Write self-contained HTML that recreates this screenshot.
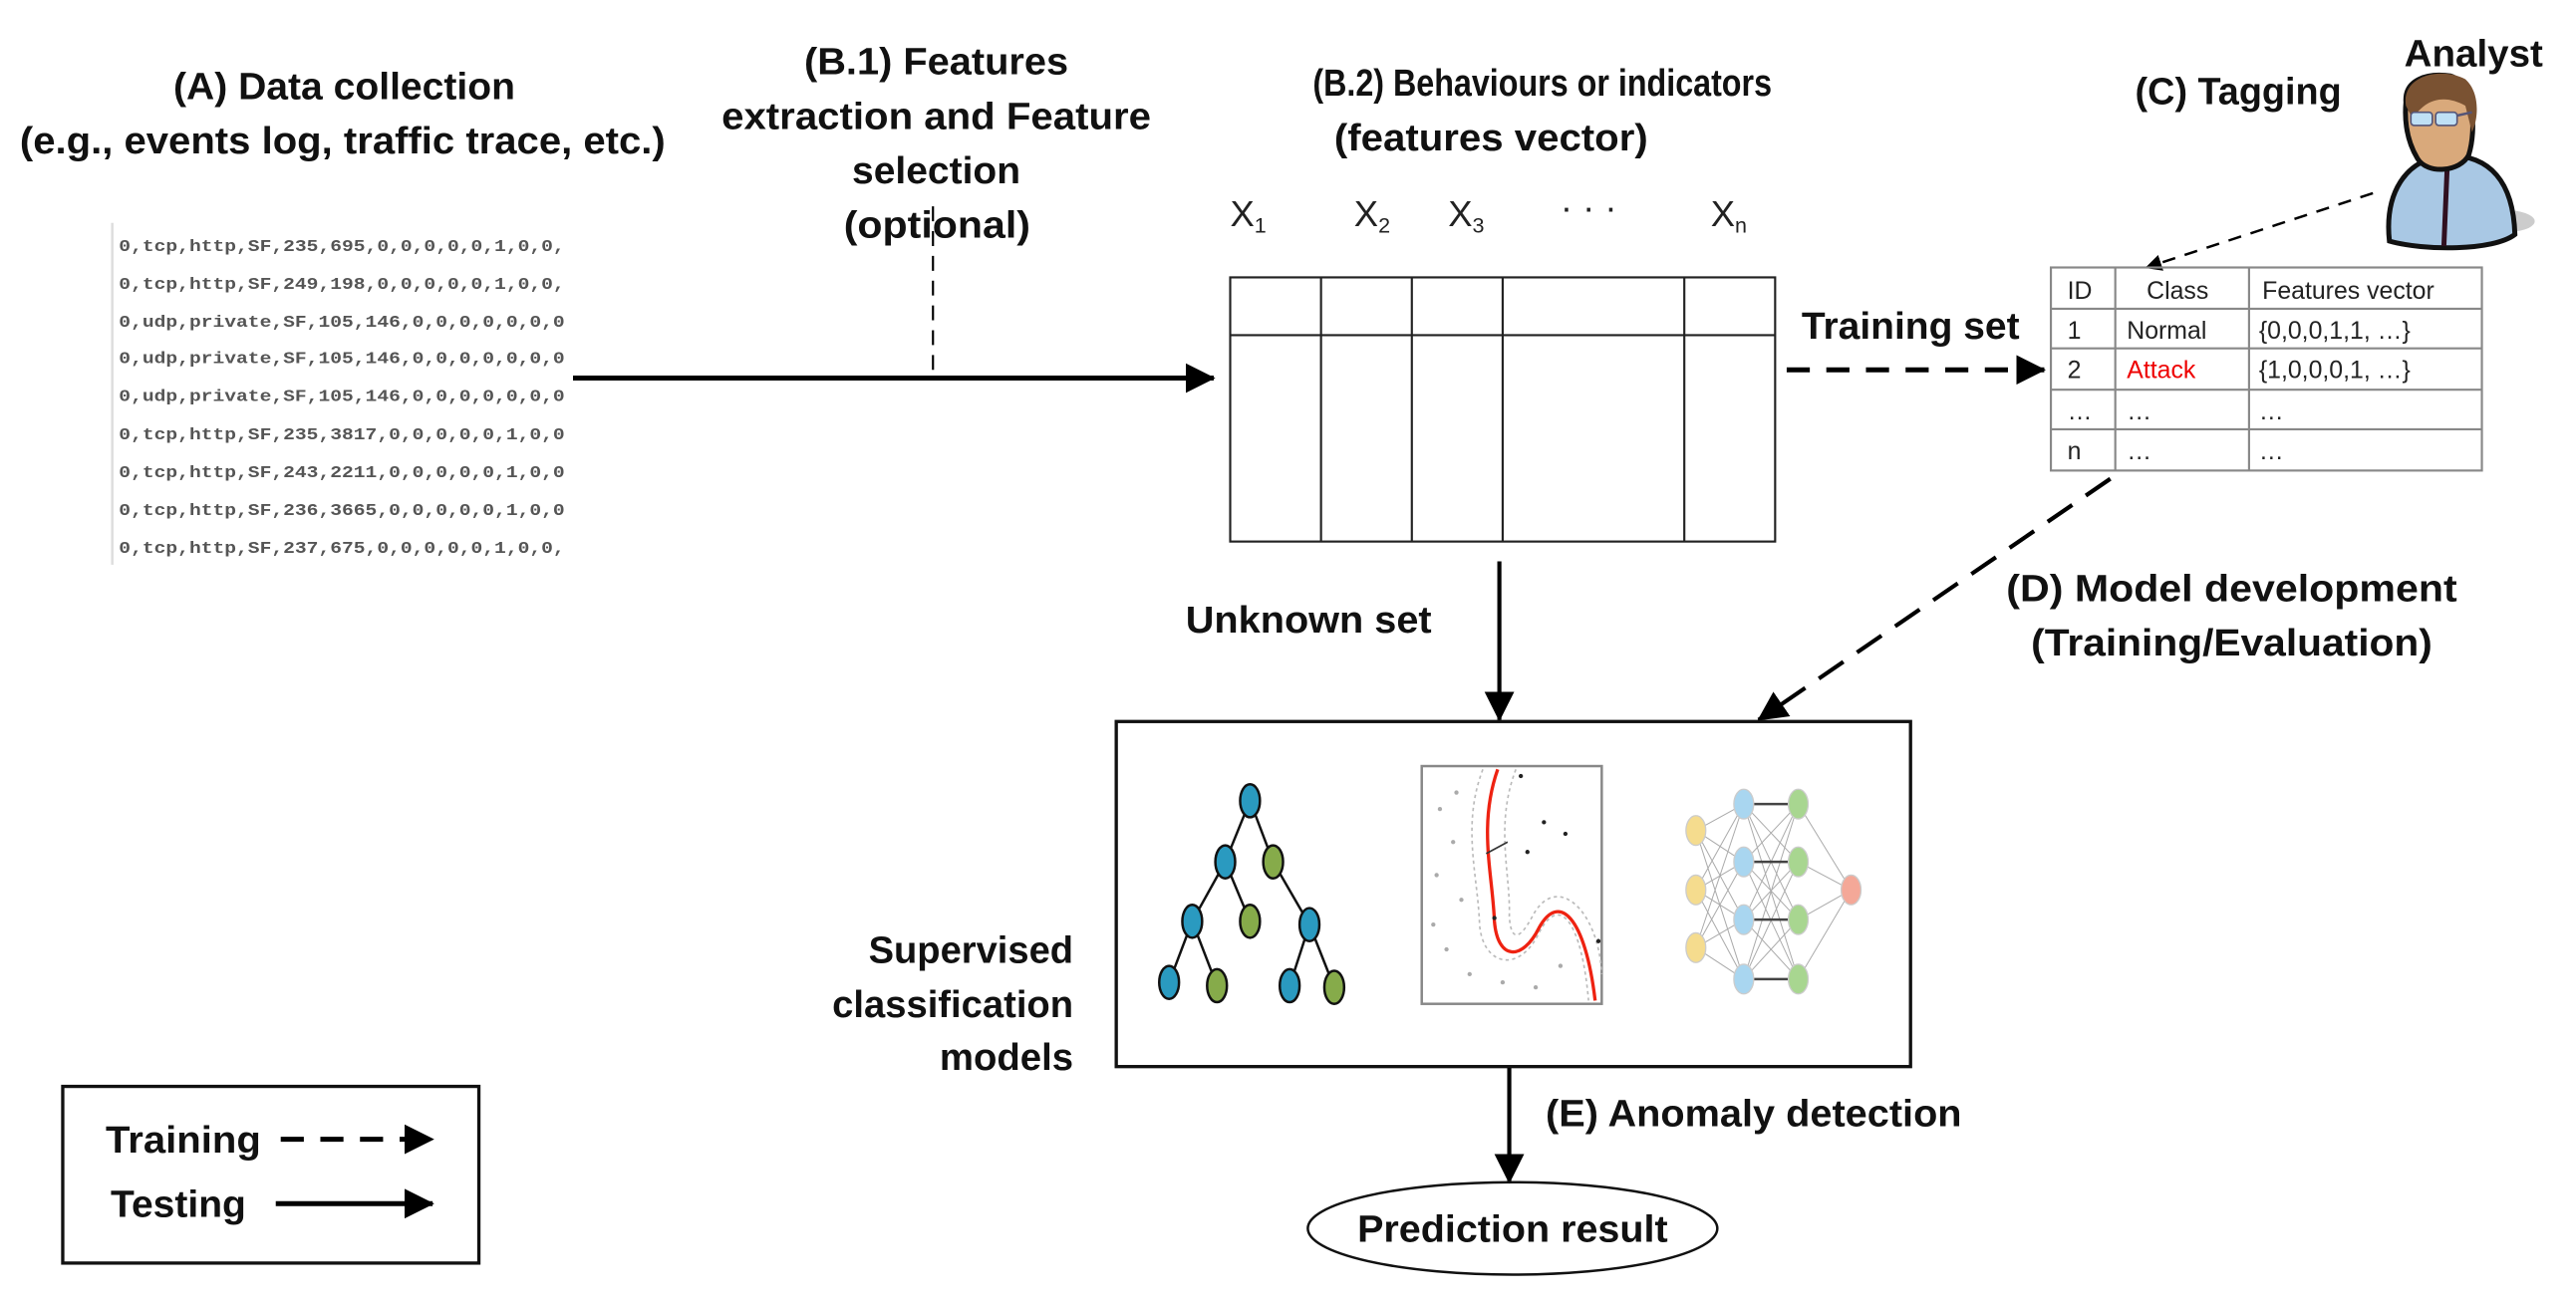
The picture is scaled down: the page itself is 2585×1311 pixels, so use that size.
<!DOCTYPE html>
<html><head><meta charset="utf-8"><style>html,body{margin:0;padding:0;background:#fff}svg{display:block}</style></head>
<body>
<svg width="2585" height="1311" viewBox="0 0 1560 791" preserveAspectRatio="none" xmlns="http://www.w3.org/2000/svg" font-family="Liberation Sans, sans-serif">
<defs>
<marker id="ah" markerWidth="10" markerHeight="10" refX="9" refY="5" orient="auto" markerUnits="userSpaceOnUse" viewBox="0 0 10 10"><path d="M0,0 L10,5 L0,10 z" fill="#000"/></marker>
<marker id="ahb" markerWidth="18" markerHeight="18" refX="17" refY="9" orient="auto" markerUnits="userSpaceOnUse" viewBox="0 0 18 18"><path d="M0,0 L18,9 L0,18 z" fill="#000"/></marker>
</defs>
<rect width="1560" height="791" fill="#fff"/>
<g font-weight="bold" font-size="23" fill="#111">
<text x="105" y="60" textLength="207" lengthAdjust="spacingAndGlyphs">(A) Data collection</text>
<text x="12" y="93" textLength="391" lengthAdjust="spacingAndGlyphs">(e.g., events log, traffic trace, etc.)</text>
<text x="487" y="45" textLength="160" lengthAdjust="spacingAndGlyphs">(B.1) Features</text>
<text x="437" y="78" textLength="260" lengthAdjust="spacingAndGlyphs">extraction and Feature</text>
<text x="516" y="111" textLength="102" lengthAdjust="spacingAndGlyphs">selection</text>
<text x="511" y="144" textLength="113" lengthAdjust="spacingAndGlyphs">(optional)</text>
<text x="795" y="58" textLength="278" lengthAdjust="spacingAndGlyphs">(B.2) Behaviours or indicators</text>
<text x="808" y="91" textLength="190" lengthAdjust="spacingAndGlyphs">(features vector)</text>
<text x="1091" y="205" textLength="132" lengthAdjust="spacingAndGlyphs">Training set</text>
<text x="1456" y="40" textLength="84" lengthAdjust="spacingAndGlyphs">Analyst</text>
<text x="1293" y="63" textLength="125" lengthAdjust="spacingAndGlyphs">(C) Tagging</text>
<text x="1215" y="364" textLength="273" lengthAdjust="spacingAndGlyphs">(D) Model development</text>
<text x="1230" y="397" textLength="243" lengthAdjust="spacingAndGlyphs">(Training/Evaluation)</text>
<text x="718" y="383" textLength="149" lengthAdjust="spacingAndGlyphs">Unknown set</text>
<text x="526" y="583" textLength="124" lengthAdjust="spacingAndGlyphs">Supervised</text>
<text x="504" y="616" textLength="146" lengthAdjust="spacingAndGlyphs">classification</text>
<text x="569" y="648" textLength="81" lengthAdjust="spacingAndGlyphs">models</text>
<text x="936" y="682" textLength="252" lengthAdjust="spacingAndGlyphs">(E) Anomaly detection</text>
<text x="822" y="752" textLength="188" lengthAdjust="spacingAndGlyphs">Prediction result</text>
<text x="64" y="698" textLength="94" lengthAdjust="spacingAndGlyphs">Training</text>
<text x="67" y="737" textLength="82" lengthAdjust="spacingAndGlyphs">Testing</text>
</g>
<g font-size="22" fill="#222">
<text x="745" y="137">X<tspan font-size="13" dy="4">1</tspan></text>
<text x="820" y="137">X<tspan font-size="13" dy="4">2</tspan></text>
<text x="877" y="137">X<tspan font-size="13" dy="4">3</tspan></text>
<text x="945" y="133">· · ·</text>
<text x="1036" y="137">X<tspan font-size="13" dy="4">n</tspan></text>
</g>
<line x1="68" y1="135" x2="68" y2="342" stroke="#ddd" stroke-width="1.5"/>
<g font-family="Liberation Mono, monospace" font-size="10" fill="#555" font-weight="bold">
<text x="72" y="152" textLength="270" lengthAdjust="spacingAndGlyphs">0,tcp,http,SF,235,695,0,0,0,0,0,1,0,0,</text>
<text x="72" y="175" textLength="270" lengthAdjust="spacingAndGlyphs">0,tcp,http,SF,249,198,0,0,0,0,0,1,0,0,</text>
<text x="72" y="198" textLength="270" lengthAdjust="spacingAndGlyphs">0,udp,private,SF,105,146,0,0,0,0,0,0,0</text>
<text x="72" y="220" textLength="270" lengthAdjust="spacingAndGlyphs">0,udp,private,SF,105,146,0,0,0,0,0,0,0</text>
<text x="72" y="243" textLength="270" lengthAdjust="spacingAndGlyphs">0,udp,private,SF,105,146,0,0,0,0,0,0,0</text>
<text x="72" y="266" textLength="270" lengthAdjust="spacingAndGlyphs">0,tcp,http,SF,235,3817,0,0,0,0,0,1,0,0</text>
<text x="72" y="289" textLength="270" lengthAdjust="spacingAndGlyphs">0,tcp,http,SF,243,2211,0,0,0,0,0,1,0,0</text>
<text x="72" y="312" textLength="270" lengthAdjust="spacingAndGlyphs">0,tcp,http,SF,236,3665,0,0,0,0,0,1,0,0</text>
<text x="72" y="335" textLength="270" lengthAdjust="spacingAndGlyphs">0,tcp,http,SF,237,675,0,0,0,0,0,1,0,0,</text>
</g>
<line x1="347" y1="229" x2="735" y2="229" stroke="#000" stroke-width="3" marker-end="url(#ahb)"/>
<line x1="565" y1="125" x2="565" y2="225" stroke="#000" stroke-width="1.3" stroke-dasharray="9,6"/>
<line x1="1082" y1="224" x2="1238" y2="224" stroke="#000" stroke-width="3" stroke-dasharray="14,10" marker-end="url(#ahb)"/>
<line x1="1437" y1="117" x2="1300" y2="162" stroke="#000" stroke-width="1.5" stroke-dasharray="8,6" marker-end="url(#ah)"/>
<line x1="1278" y1="290" x2="1065" y2="436" stroke="#000" stroke-width="2.5" stroke-dasharray="18,10" marker-end="url(#ahb)"/>
<line x1="908" y1="340" x2="908" y2="436" stroke="#000" stroke-width="2.5" marker-end="url(#ahb)"/>
<line x1="914" y1="646" x2="914" y2="716" stroke="#000" stroke-width="2.5" marker-end="url(#ahb)"/>
<g stroke="#222" stroke-width="1.3" fill="none">
<rect x="745" y="168" width="330" height="160"/>
<line x1="745" y1="203" x2="1075" y2="203"/>
<line x1="800" y1="168" x2="800" y2="328"/><line x1="855" y1="168" x2="855" y2="328"/>
<line x1="910" y1="168" x2="910" y2="328"/><line x1="1020" y1="168" x2="1020" y2="328"/>
</g>
<g stroke="#888" stroke-width="1.3" fill="none">
<rect x="1242" y="162" width="261" height="123"/>
<line x1="1242" y1="187" x2="1503" y2="187"/><line x1="1242" y1="211" x2="1503" y2="211"/>
<line x1="1242" y1="236" x2="1503" y2="236"/><line x1="1242" y1="260" x2="1503" y2="260"/>
<line x1="1281" y1="162" x2="1281" y2="285"/><line x1="1362" y1="162" x2="1362" y2="285"/>
</g>
<g font-size="15" fill="#222">
<text x="1252" y="181">ID</text><text x="1300" y="181">Class</text><text x="1370" y="181">Features vector</text>
<text x="1252" y="205">1</text><text x="1288" y="205">Normal</text><text x="1368" y="205">{0,0,0,1,1, …}</text>
<text x="1252" y="229">2</text><text x="1288" y="229" fill="#e00">Attack</text><text x="1368" y="229">{1,0,0,0,1, …}</text>
<text x="1252" y="254">…</text><text x="1288" y="254">…</text><text x="1368" y="254">…</text>
<text x="1252" y="278">n</text><text x="1288" y="278">…</text><text x="1368" y="278">…</text>
</g>
<g>
<ellipse cx="1515" cy="134" rx="20" ry="7" fill="#999" opacity="0.5"/>
<path d="M1447,146 C1444,118 1456,96 1482,94 C1508,94 1522,110 1523,142 C1510,152 1468,152 1447,146 z" fill="#a9c8e4" stroke="#111" stroke-width="3"/>
<line x1="1482" y1="101" x2="1480" y2="149" stroke="#301020" stroke-width="3"/>
<path d="M1457,62 C1456,48 1470,44 1484,46 C1498,50 1500,78 1495,94 C1490,104 1470,106 1464,96 C1458,86 1456,74 1457,62 z" fill="#d9a97b" stroke="#111" stroke-width="3"/>
<path d="M1457,64 C1454,46 1478,40 1493,48 C1502,56 1501,72 1497,80 L1493,64 C1482,58 1470,58 1461,72 z" fill="#7a5232"/>
<rect x="1460" y="68" width="13" height="8" rx="2" fill="#bfe0f5" stroke="#557" stroke-width="1"/>
<rect x="1475" y="68" width="13" height="8" rx="2" fill="#bfe0f5" stroke="#557" stroke-width="1"/>
<line x1="1488" y1="70" x2="1497" y2="68" stroke="#557" stroke-width="1.5"/>
</g>
<rect x="676" y="437" width="481" height="209" fill="none" stroke="#111" stroke-width="2"/>
<g stroke="#111" stroke-width="1.5">
<line x1="757" y1="485" x2="742" y2="522"/><line x1="757" y1="485" x2="771" y2="522"/>
<line x1="742" y1="522" x2="722" y2="558"/><line x1="742" y1="522" x2="757" y2="558"/>
<line x1="771" y1="522" x2="793" y2="560"/>
<line x1="722" y1="558" x2="708" y2="595"/><line x1="722" y1="558" x2="737" y2="597"/>
<line x1="793" y1="560" x2="781" y2="597"/><line x1="793" y1="560" x2="808" y2="598"/>
<ellipse cx="757" cy="485" rx="6" ry="10" fill="#2a9ac0"/>
<ellipse cx="742" cy="522" rx="6" ry="10" fill="#2a9ac0"/>
<ellipse cx="771" cy="522" rx="6" ry="10" fill="#86ab4a"/>
<ellipse cx="722" cy="558" rx="6" ry="10" fill="#2a9ac0"/>
<ellipse cx="757" cy="558" rx="6" ry="10" fill="#86ab4a"/>
<ellipse cx="793" cy="560" rx="6" ry="10" fill="#2a9ac0"/>
<ellipse cx="708" cy="595" rx="6" ry="10" fill="#2a9ac0"/>
<ellipse cx="737" cy="597" rx="6" ry="10" fill="#86ab4a"/>
<ellipse cx="781" cy="597" rx="6" ry="10" fill="#2a9ac0"/>
<ellipse cx="808" cy="598" rx="6" ry="10" fill="#86ab4a"/>
</g>
<rect x="861" y="464" width="109" height="144" fill="#fff" stroke="#888" stroke-width="1.5"/>
<path d="M898,466 C885,500 895,530 896,560 C898,585 920,590 932,565 C945,540 958,560 962,606" fill="none" stroke="#bbb" stroke-width="1" stroke-dasharray="2,2"/>
<path d="M918,466 C905,500 915,530 914,555 C915,570 920,570 928,555 C942,528 968,550 970,590" fill="none" stroke="#bbb" stroke-width="1" stroke-dasharray="2,2"/>
<path d="M907,466 C895,500 904,530 905,558 C907,582 922,582 932,562 C944,540 960,555 966,606" fill="none" stroke="#e21" stroke-width="2"/>
<g fill="#aaa">
<circle cx="872" cy="490" r="1.3"/><circle cx="880" cy="510" r="1.3"/><circle cx="870" cy="530" r="1.3"/><circle cx="885" cy="545" r="1.3"/><circle cx="876" cy="575" r="1.3"/><circle cx="890" cy="590" r="1.3"/><circle cx="910" cy="595" r="1.3"/><circle cx="930" cy="598" r="1.3"/><circle cx="945" cy="585" r="1.3"/><circle cx="882" cy="480" r="1.3"/><circle cx="868" cy="560" r="1.3"/>
</g>
<g fill="#222"><circle cx="921" cy="470" r="1.3"/><circle cx="935" cy="498" r="1.3"/><circle cx="948" cy="505" r="1.3"/><circle cx="925" cy="516" r="1.3"/><circle cx="968" cy="570" r="1.3"/><circle cx="905" cy="556" r="1.3"/></g>
<line x1="900" y1="517" x2="913" y2="510" stroke="#333" stroke-width="1"/>
<g stroke="#aaa" stroke-width="0.6">
<path d="M1027,503 L1056,487 M1027,503 L1056,522 M1027,503 L1056,557 M1027,503 L1056,593 M1027,539 L1056,487 M1027,539 L1056,522 M1027,539 L1056,557 M1027,539 L1056,593 M1027,574 L1056,487 M1027,574 L1056,522 M1027,574 L1056,557 M1027,574 L1056,593"/>
<path d="M1056,487 L1089,522 M1056,487 L1089,557 M1056,487 L1089,593 M1056,522 L1089,487 M1056,522 L1089,557 M1056,522 L1089,593 M1056,557 L1089,487 M1056,557 L1089,522 M1056,557 L1089,593 M1056,593 L1089,487 M1056,593 L1089,522 M1056,593 L1089,557"/>
<path d="M1089,487 L1121,539 M1089,522 L1121,539 M1089,557 L1121,539 M1089,593 L1121,539"/>
</g>
<g stroke="#444" stroke-width="1.5"><path d="M1056,487 H1089 M1056,522 H1089 M1056,557 H1089 M1056,593 H1089"/></g>
<g stroke="#ccc" stroke-width="0.8">
<ellipse cx="1027" cy="503" rx="6" ry="9" fill="#f5dc8e"/><ellipse cx="1027" cy="539" rx="6" ry="9" fill="#f5dc8e"/><ellipse cx="1027" cy="574" rx="6" ry="9" fill="#f5dc8e"/>
<ellipse cx="1056" cy="487" rx="6" ry="9" fill="#a9d6f0"/><ellipse cx="1056" cy="522" rx="6" ry="9" fill="#a9d6f0"/><ellipse cx="1056" cy="557" rx="6" ry="9" fill="#a9d6f0"/><ellipse cx="1056" cy="593" rx="6" ry="9" fill="#a9d6f0"/>
<ellipse cx="1089" cy="487" rx="6" ry="9" fill="#a8d690"/><ellipse cx="1089" cy="522" rx="6" ry="9" fill="#a8d690"/><ellipse cx="1089" cy="557" rx="6" ry="9" fill="#a8d690"/><ellipse cx="1089" cy="593" rx="6" ry="9" fill="#a8d690"/>
<ellipse cx="1121" cy="539" rx="6" ry="9" fill="#f4a898"/>
</g>
<ellipse cx="916" cy="744" rx="124" ry="28" fill="none" stroke="#111" stroke-width="1.5"/>
<rect x="38" y="658" width="252" height="107" fill="none" stroke="#111" stroke-width="2"/>
<line x1="170" y1="690" x2="262" y2="690" stroke="#000" stroke-width="3" stroke-dasharray="14,10" marker-end="url(#ahb)"/>
<line x1="167" y1="729" x2="262" y2="729" stroke="#000" stroke-width="3" marker-end="url(#ahb)"/>
</svg>
</body></html>
